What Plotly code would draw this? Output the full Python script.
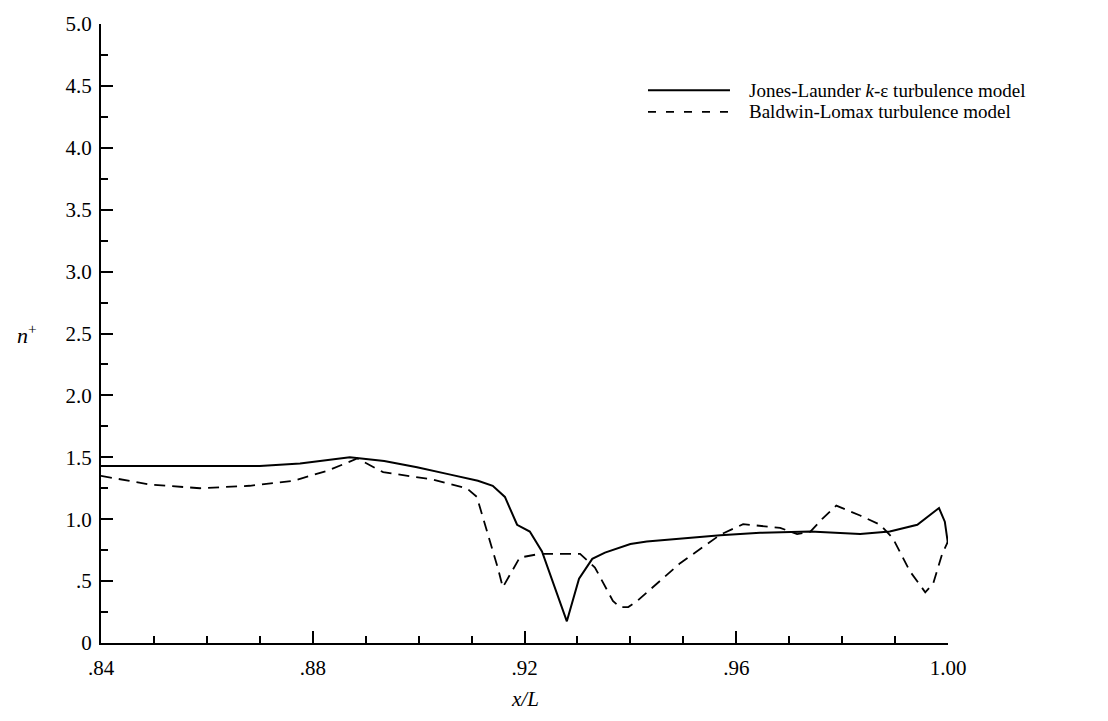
import plotly.graph_objects as go

# Jones-Launder k-epsilon model (solid)
jl_x = [0.840, 0.850, 0.860, 0.870, 0.8776, 0.8827, 0.887, 0.8935, 0.8997, 0.9060, 0.9112,
        0.914, 0.9163, 0.9186, 0.921, 0.9233, 0.928, 0.9303, 0.9328, 0.9352, 0.940,
        0.9431, 0.9494, 0.957, 0.9645, 0.974, 0.9834, 0.989, 0.9942, 0.9983, 0.9994, 1.000]
jl_y = [1.43, 1.43, 1.43, 1.43, 1.45, 1.48, 1.50, 1.47, 1.42, 1.36, 1.31,
        1.27, 1.18, 0.955, 0.90, 0.74, 0.175, 0.52, 0.68, 0.73, 0.80,
        0.82, 0.845, 0.87, 0.89, 0.90, 0.88, 0.90, 0.955, 1.09, 0.98, 0.80]

# Baldwin-Lomax model (dashed)
bl_x = [0.840, 0.8493, 0.8587, 0.8681, 0.8763, 0.8827, 0.8884, 0.8933, 0.9027, 0.9091,
        0.911, 0.9130, 0.9150, 0.9159, 0.9191, 0.9229, 0.9305, 0.9333, 0.9367, 0.938,
        0.9396, 0.9413, 0.9494, 0.957, 0.9613, 0.9683, 0.9715, 0.974, 0.9762, 0.9789,
        0.9834, 0.9872, 0.9896, 0.9928, 0.9957, 0.9972, 0.9989, 1.000]
bl_y = [1.35, 1.28, 1.25, 1.27, 1.31, 1.39, 1.49, 1.38, 1.32, 1.25,
        1.18, 0.90, 0.60, 0.45, 0.69, 0.72, 0.72, 0.61, 0.34, 0.29,
        0.29, 0.34, 0.645, 0.875, 0.96, 0.93, 0.88, 0.90, 1.00, 1.11,
        1.03, 0.955, 0.845, 0.58, 0.41, 0.48, 0.72, 0.82]

x_tickvals = [0.84, 0.88, 0.92, 0.96, 1.00]
x_ticktext = [".84", ".88", ".92", ".96", "1.00"]
y_tickvals = [0, 0.5, 1.0, 1.5, 2.0, 2.5, 3.0, 3.5, 4.0, 4.5, 5.0]
y_ticktext = ["0", ".5", "1.0", "1.5", "2.0", "2.5", "3.0", "3.5", "4.0", "4.5", "5.0"]

legend_labels = ["Jones-Launder <i>k</i>-\u03b5 turbulence model",
                 "Baldwin-Lomax turbulence model"]

FONT = "Liberation Serif"
FS = 21

fig = go.Figure()
fig.add_trace(go.Scatter(x=jl_x, y=jl_y, mode="lines",
                         line=dict(color="black", width=2), showlegend=False))
fig.add_trace(go.Scatter(x=bl_x, y=bl_y, mode="lines",
                         line=dict(color="black", width=1.8, dash="11px,7px"), showlegend=False))

fig.update_xaxes(range=[0.84, 1.00], tickmode="array", tickvals=x_tickvals, ticktext=x_ticktext,
                 ticks="inside", ticklen=12, tickwidth=2, tickcolor="black",
                 minor=dict(tickmode="linear", tick0=0.84, dtick=0.01, ticks="inside",
                            ticklen=7, tickwidth=1.5, tickcolor="black"),
                 showline=True, linecolor="black", linewidth=2, showgrid=False, zeroline=False,
                 ticklabelstandoff=5,
                 tickfont=dict(family=FONT, size=FS, color="black"))
fig.update_yaxes(range=[0, 5.0], tickmode="array", tickvals=y_tickvals, ticktext=y_ticktext,
                 ticks="inside", ticklen=12, tickwidth=2, tickcolor="black",
                 minor=dict(tickmode="linear", tick0=0, dtick=0.25, ticks="inside",
                            ticklen=7, tickwidth=1.5, tickcolor="black"),
                 showline=True, linecolor="black", linewidth=2, showgrid=False, zeroline=False,
                 ticklabelstandoff=3,
                 tickfont=dict(family=FONT, size=FS, color="black"))

# legend drawn manually
leg_y = [0.893, 0.858]
dashes = ["solid", "dash"]
for ly, lab, d in zip(leg_y, legend_labels, dashes):
    fig.add_shape(type="line", xref="paper", yref="paper", x0=0.6458, x1=0.7426, y0=ly, y1=ly,
                  line=dict(color="black", width=2 if d == "solid" else 1.8,
                            dash="solid" if d == "solid" else "8px,10px"))
    fig.add_annotation(xref="paper", yref="paper", x=0.7627, y=ly, text=lab, showarrow=False,
                       xanchor="left", yanchor="middle",
                       font=dict(family=FONT, size=19, color="black"))

fig.add_annotation(xref="paper", yref="paper", x=-0.0874, y=0.5,
                   text="<i>n</i><sup style='font-size:18px'>+</sup>",
                   showarrow=False, xanchor="center", yanchor="middle",
                   font=dict(family=FONT, size=22, color="black"))
fig.add_annotation(xref="paper", yref="paper", x=0.5, y=-0.0908, text="<i>x/L</i>",
                   showarrow=False, xanchor="center", yanchor="middle",
                   font=dict(family=FONT, size=FS, color="black"))

fig.update_layout(width=1108, height=721, margin=dict(l=101, r=160, t=15, b=78),
                  paper_bgcolor="white", plot_bgcolor="white", showlegend=False)

fig.write_html("out.html")
